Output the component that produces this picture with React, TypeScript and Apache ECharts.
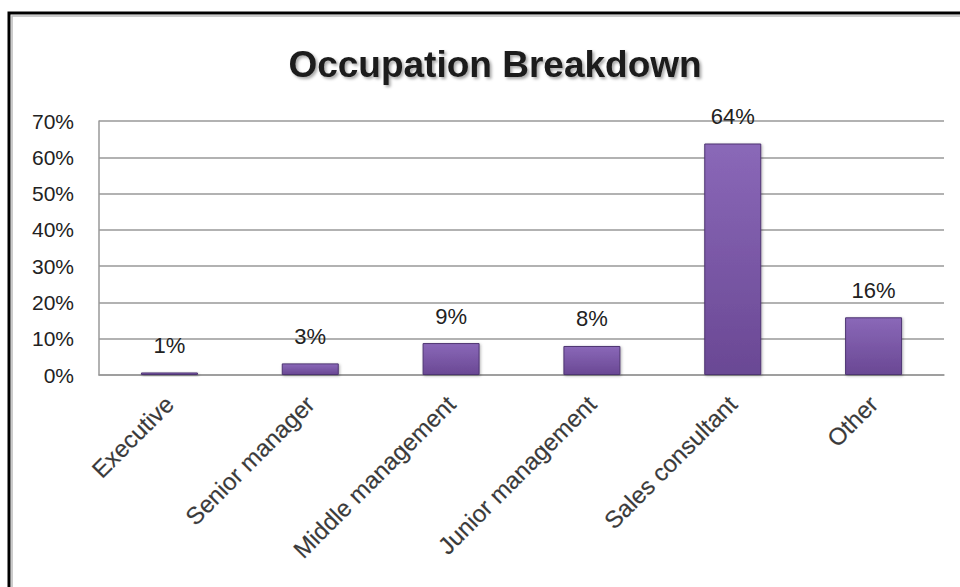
import React, { useEffect, useRef } from "react";
import * as echarts from "echarts";

const categories = [
  "Executive",
  "Senior manager",
  "Middle management",
  "Junior management",
  "Sales consultant",
  "Other",
];
const values = [0.007, 0.032, 0.088, 0.08, 0.638, 0.159];
const labels = ["1%", "3%", "9%", "8%", "64%", "16%"];
const yMin = 0;
const yMax = 0.7;
const yInterval = 0.1;

export default function App() {
  const ref = useRef<HTMLDivElement>(null);
  useEffect(() => {
    if (!ref.current) return;
    const chart = echarts.init(ref.current, undefined, { renderer: "svg" });
    const font = "'Liberation Sans', Arial, sans-serif";
    chart.setOption({
      animation: false,
      backgroundColor: "#ffffff",
      title: {
        text: "Occupation Breakdown",
        left: 490,
        textAlign: "center",
        top: 41,
        textStyle: {
          fontFamily: font,
          fontWeight: "bold",
          fontSize: 37,
          color: "#1a1a1a",
          textShadowColor: "rgba(0,0,0,0.35)",
          textShadowBlur: 3,
          textShadowOffsetX: 2,
          textShadowOffsetY: 2,
        },
      },
      graphic: [
        { type: "rect", shape: { x: 9, y: 13, width: 960, height: 600 }, style: { fill: "none", stroke: "#000", lineWidth: 3 }, silent: true },
        { type: "rect", shape: { x: 12, y: 16, width: 960, height: 600 }, style: { fill: "none", stroke: "#bbb", lineWidth: 1.5 }, silent: true },
      ],
      grid: { left: 99, right: 16, top: 121, bottom: 212, containLabel: false },
      xAxis: {
        type: "category",
        data: categories,
        axisLine: { show: true, lineStyle: { color: "#999", width: 1.5 } },
        axisTick: { show: false },
        axisLabel: {
          interval: 0,
          rotate: 45,
          margin: 25,
          fontFamily: font,
          fontSize: 24,
          color: "#3a3a3a",
          textBorderColor: "rgba(0,0,0,0.25)",
          textBorderWidth: 0.6,
        },
      },
      yAxis: {
        type: "value",
        min: yMin,
        max: yMax,
        interval: yInterval,
        axisLine: { show: true, lineStyle: { color: "#999", width: 1.5 } },
        axisTick: { show: false },
        splitLine: { show: true, lineStyle: { color: "#999", width: 1.5 } },
        axisLabel: {
          margin: 25,
          fontFamily: font,
          fontSize: 21,
          color: "#222",
          formatter: (v: number) => `${Math.round(v * 100)}%`,
        },
      },
      series: [
        {
          type: "bar",
          data: values,
          barWidth: 57,
          itemStyle: {
            color: new echarts.graphic.LinearGradient(0, 0, 0, 1, [
              { offset: 0, color: "#8a68b8" },
              { offset: 1, color: "#6a4894" },
            ]),
            borderColor: "#4e3572",
            borderWidth: 1,
            shadowColor: "rgba(0,0,0,0.3)",
            shadowBlur: 3,
            shadowOffsetX: 1,
            shadowOffsetY: 1,
          },
          label: {
            show: true,
            position: "top",
            distance: 16,
            fontFamily: font,
            fontSize: 22,
            color: "#222",
            formatter: (p: any) => labels[p.dataIndex],
          },
        },
      ],
    });
    return () => chart.dispose();
  }, []);
  return (
    <div
      ref={ref}
      style={{ position: "fixed", left: 0, top: 0, width: 960, height: 587 }}
    />
  );
}
